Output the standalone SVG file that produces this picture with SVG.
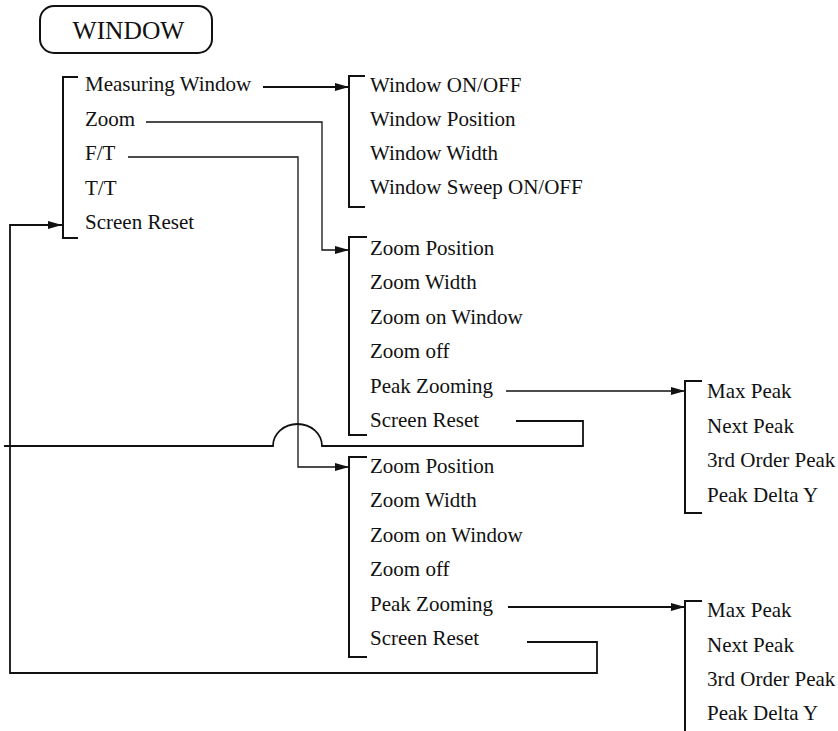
<svg xmlns="http://www.w3.org/2000/svg" width="838" height="731" viewBox="0 0 838 731">
<defs>
<style>
text{font-family:'Liberation Serif','Times New Roman',Times,'DejaVu Serif',serif;font-size:21px;fill:#111}
.title{font-size:25.5px}
.br{fill:none;stroke:#111;stroke-width:2}
.c{fill:none;stroke:#111;stroke-width:1.8}
.t{stroke-width:1.3}
</style>
<marker id="ah" markerUnits="userSpaceOnUse" markerWidth="14" markerHeight="8" refX="14" refY="4" orient="auto">
<path d="M0,0 L14,4 L0,8 Z" fill="#111"/>
</marker>
</defs>
<rect width="838" height="731" fill="#fff"/>
<g font-family="Liberation Serif, Times New Roman, serif">
<g id="title">
<rect x="40" y="6" width="172" height="47" rx="14" ry="14" class="br"/>
<text class="title" x="128.5" y="39" text-anchor="middle">WINDOW</text>
</g>

<g id="menu-window">
<path class="br" d="M78,77 H63 V238 H78"/>
<text x="85" y="91">Measuring Window</text>
<text x="85" y="125.5">Zoom</text>
<text x="85" y="160">F/T</text>
<text x="85" y="194.5">T/T</text>
<text x="85" y="229">Screen Reset</text>
</g>

<g id="menu-measuring">
<path class="br" d="M365,76 H349 V207 H365"/>
<text x="370" y="92">Window ON/OFF</text>
<text x="370" y="126">Window Position</text>
<text x="370" y="160">Window Width</text>
<text x="370" y="194">Window Sweep ON/OFF</text>
</g>

<g id="menu-zoom">
<path class="br" d="M367,237 H349 V435 H367"/>
<text x="370" y="255">Zoom Position</text>
<text x="370" y="289">Zoom Width</text>
<text x="370" y="323.5">Zoom on Window</text>
<text x="370" y="358">Zoom off</text>
<text x="370" y="392.5">Peak Zooming</text>
<text x="370" y="426.5">Screen Reset</text>
</g>

<g id="menu-ft">
<path class="br" d="M367,457 H349 V657 H367"/>
<text x="370" y="473">Zoom Position</text>
<text x="370" y="507">Zoom Width</text>
<text x="370" y="542">Zoom on Window</text>
<text x="370" y="576">Zoom off</text>
<text x="370" y="611">Peak Zooming</text>
<text x="370" y="645">Screen Reset</text>
</g>

<g id="menu-peak1">
<path class="br" d="M702,381 H685 V513 H702"/>
<text x="707" y="398">Max Peak</text>
<text x="707" y="433">Next Peak</text>
<text x="707" y="467">3rd Order Peak</text>
<text x="707" y="502">Peak Delta Y</text>
</g>

<g id="menu-peak2">
<path class="br" d="M702,601 H685 V731"/>
<text x="707" y="617">Max Peak</text>
<text x="707" y="652">Next Peak</text>
<text x="707" y="686">3rd Order Peak</text>
<text x="707" y="720">Peak Delta Y</text>
</g>
</g>
<g id="connectors">
<path class="c" d="M263,87 H349" marker-end="url(#ah)"/>
<path class="c t" d="M146,122 H322 V250 H349" marker-end="url(#ah)"/>
<path class="c t" d="M128,157 H298 V467 H349" marker-end="url(#ah)"/>
<path class="c" d="M516,421 H583 V446 H322 A24.5,22 0 0 0 273,446 H4"/>
<path class="c t" d="M506,391 H685" marker-end="url(#ah)"/>
<path class="c" d="M508,607 H685" marker-end="url(#ah)"/>
<path class="c" d="M527,642 H597 V673 H10 V225 H62" marker-end="url(#ah)"/>
</g>
</svg>
